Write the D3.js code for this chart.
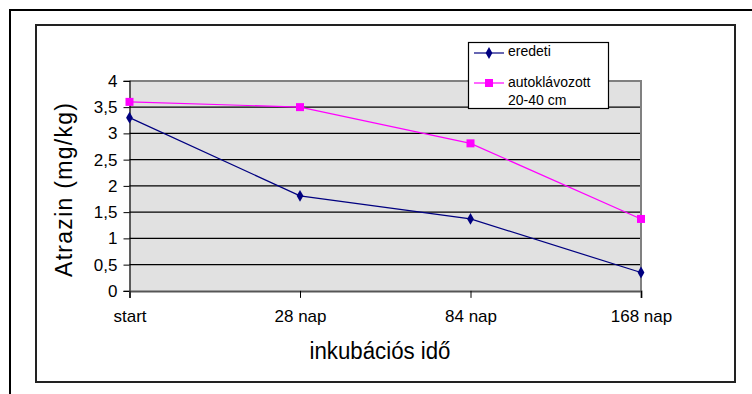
<!DOCTYPE html>
<html>
<head>
<meta charset="utf-8">
<script src="https://cdn.jsdelivr.net/npm/d3@7"></script>
<style>
  body { margin: 0; background: #fff; }
  text { font-family: Arial, "Liberation Sans", sans-serif; fill: #000; }
</style>
</head>
<body>
<script>
// data
const categories = ["start", "28 nap", "84 nap", "168 nap"]
const eredeti = [3.3, 1.81, 1.37, 0.35]
const autoklavozott = [3.6, 3.5, 2.81, 1.37]
const yTicks = [0, 0.5, 1, 1.5, 2, 2.5, 3, 3.5, 4]

const width = 752, height = 394

const svg = d3.select("body").append("svg")
    .attr("width", width)
    .attr("height", height)
    .style("display", "block")

// outer frame (runs off the page on the right and bottom)
svg.append("rect")
    .attr("x", 10).attr("y", 10)
    .attr("width", 780).attr("height", 420)
    .attr("fill", "none").attr("stroke", "#000").attr("stroke-width", 2)

// chart area frame
svg.append("rect")
    .attr("x", 36).attr("y", 25)
    .attr("width", 699).attr("height", 357)
    .attr("fill", "#fff").attr("stroke", "#222").attr("stroke-width", 2)

const x = d3.scalePoint()
    .domain(categories)
    .range([129.5, 641])

const y = d3.scaleLinear()
    .domain([0, 4])
    .range([290.875, 80.875])

// plot background
svg.append("rect")
    .attr("x", x.range()[0]).attr("y", y(4))
    .attr("width", x.range()[1] - x.range()[0])
    .attr("height", y(0) - y(4))
    .attr("fill", "#e1e1e1")

// gridlines
svg.append("g")
    .selectAll("line")
    .data(yTicks.slice(1, -1))
    .join("line")
    .attr("x1", x.range()[0]).attr("x2", x.range()[1])
    .attr("y1", d => y(d)).attr("y2", d => y(d))
    .attr("stroke", "#000").attr("stroke-width", 1.2)

// top and right border of the plot
svg.append("path")
    .attr("d", `M${x.range()[0]},${y(4)}H${x.range()[1]}V${y(0)}`)
    .attr("fill", "none").attr("stroke", "#808080").attr("stroke-width", 2)

// y axis
const yAxis = svg.append("g")
    .attr("transform", `translate(${x.range()[0]},0)`)
    .call(d3.axisLeft(y).tickValues(yTicks).tickSize(6).tickPadding(6)
        .tickFormat(d => String(d).replace(".", ",")))
yAxis.select(".domain").attr("stroke", "#000").attr("stroke-width", 1.2)
yAxis.selectAll(".tick line").attr("stroke", "#000")
yAxis.selectAll("text")
    .style("font-size", "17px")
    .style("font-family", "Arial, 'Liberation Sans', sans-serif")

// x axis
const xAxis = svg.append("g")
    .attr("transform", `translate(0,${y(0)})`)
    .call(d3.axisBottom(x).tickSize(7).tickPadding(12))
xAxis.select(".domain").attr("stroke", "#555").attr("stroke-width", 2)
xAxis.selectAll(".tick line").attr("stroke", "#000")
xAxis.selectAll("text")
    .style("font-size", "17px")
    .style("font-family", "Arial, 'Liberation Sans', sans-serif")

// axis titles
svg.append("text")
    .attr("transform", "translate(72,190) rotate(-90)")
    .attr("text-anchor", "middle")
    .attr("textLength", 174)
    .style("font-size", "23px")
    .text("Atrazin (mg/kg)")

svg.append("text")
    .attr("x", 380).attr("y", 359)
    .attr("text-anchor", "middle")
    .attr("textLength", 141)
    .attr("lengthAdjust", "spacingAndGlyphs")
    .style("font-size", "23px")
    .text("inkubációs idő")

// series
const line = d3.line()
    .x((d, i) => x(categories[i]))
    .y(d => y(d))

const diamond = d3.symbol().type(d3.symbolDiamond).size(40)
const square = d3.symbol().type(d3.symbolSquare).size(64)

svg.append("path")
    .attr("d", line(autoklavozott))
    .attr("fill", "none").attr("stroke", "#ff00ff").attr("stroke-width", 1.2)

svg.append("path")
    .attr("d", line(eredeti))
    .attr("fill", "none").attr("stroke", "#000080").attr("stroke-width", 1.2)

svg.append("g")
    .selectAll("path")
    .data(autoklavozott)
    .join("path")
    .attr("transform", (d, i) => `translate(${x(categories[i])},${y(d)})`)
    .attr("d", square)
    .attr("fill", "#ff00ff")

svg.append("g")
    .selectAll("path")
    .data(eredeti)
    .join("path")
    .attr("transform", (d, i) => `translate(${x(categories[i])},${y(d)})`)
    .attr("d", diamond)
    .attr("fill", "#000080")

// legend
const legend = svg.append("g")
legend.append("rect")
    .attr("x", 468.5).attr("y", 42.5)
    .attr("width", 140).attr("height", 66)
    .attr("fill", "#fff").attr("stroke", "#000").attr("stroke-width", 1.2)

legend.append("line")
    .attr("x1", 474).attr("x2", 504).attr("y1", 53).attr("y2", 53)
    .attr("stroke", "#000080").attr("stroke-width", 1.2)
legend.append("path")
    .attr("transform", "translate(489,53)")
    .attr("d", diamond).attr("fill", "#000080")
legend.append("text")
    .attr("x", 508).attr("y", 56)
    .style("font-size", "14px")
    .text("eredeti")

legend.append("line")
    .attr("x1", 474).attr("x2", 504).attr("y1", 83).attr("y2", 83)
    .attr("stroke", "#ff00ff").attr("stroke-width", 1.2)
legend.append("path")
    .attr("transform", "translate(489,83)")
    .attr("d", square).attr("fill", "#ff00ff")
legend.append("text")
    .attr("x", 508).attr("y", 87)
    .style("font-size", "14px")
    .text("autoklávozott")
legend.append("text")
    .attr("x", 508).attr("y", 105)
    .style("font-size", "14px")
    .text("20-40 cm")
</script>
</body>
</html>
